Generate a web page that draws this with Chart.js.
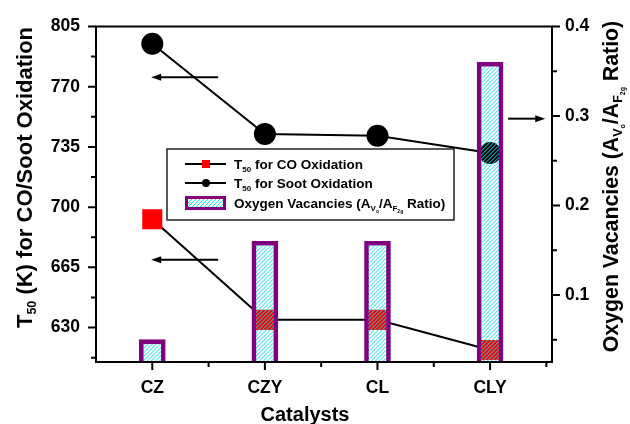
<!DOCTYPE html>
<html>
<head>
<meta charset="utf-8">
<script src="https://cdn.jsdelivr.net/npm/chart.js@4"></script>
<style>
  html, body { margin: 0; padding: 0; background: #fff; }
  #wrap { width: 630px; height: 424px; }
</style>
</head>
<body>
<div id="wrap"><canvas id="c" width="630" height="424"></canvas></div>
<script>
// Catalysts and measured values
const categories = ['CZ', 'CZY', 'CL', 'CLY'];
const t50CO = [693, 634.5, 634.5, 617];          // K, left axis
const t50Soot = [795, 742.5, 741.5, 731.5];      // K, left axis
const vacancyRatio = [0.05, 0.16, 0.16, 0.36];   // A_Vo / A_F2g, right axis

// Tick labels
const leftTickLabels = [630, 665, 700, 735, 770, 805];
const rightTickLabels = [0.1, 0.2, 0.3, 0.4];

// Arrows pointing each series to its axis (in data units)
const axisArrows = [
  { axis: 'yL', y: 775.5, from: 1.585, to: 0.99 },
  { axis: 'yL', y: 669.5, from: 1.585, to: 0.99 },
  { axis: 'yR', y: 0.297, from: 4.16, to: 4.49 }
];

const FONT = '"Liberation Sans", Arial, Helvetica, sans-serif';
const PURPLE = '#800080';
const HATCH = 'rgb(0,232,242)';
const BAR_BORDER = 4;

// "///" hatch lines clipped to a rectangle
function hatchRect(ctx, x, y, w, h, gap) {
  ctx.save();
  ctx.beginPath();
  ctx.rect(x, y, w, h);
  ctx.clip();
  ctx.strokeStyle = HATCH;
  ctx.lineWidth = 1;
  ctx.beginPath();
  const start = Math.floor((x - h) / gap) * gap;
  for (let sx = start; sx < x + w + gap; sx += gap) {
    ctx.moveTo(sx, y + h);
    ctx.lineTo(sx + h, y);
  }
  ctx.stroke();
  ctx.restore();
}

function richWidth(ctx, segs) {
  let w = 0;
  for (const s of segs) {
    ctx.font = 'bold ' + s.size + 'px ' + FONT;
    w += ctx.measureText(s.t).width;
  }
  return w;
}
function drawRich(ctx, segs, x, y) {
  let cx = x;
  for (const s of segs) {
    ctx.font = 'bold ' + s.size + 'px ' + FONT;
    ctx.fillText(s.t, cx, y + (s.dy || 0));
    cx += ctx.measureText(s.t).width;
  }
}

const canvas = document.getElementById('c');

const xy = (vals) => vals.map((v, i) => ({ x: i + 1, y: v }));
const minorBetween = (arr, step) => arr.map(v => v - step / 2);

const decorPlugin = {
  id: 'decor',
  afterDatasetsDraw(chart) {
    const { ctx, chartArea: a, scales } = chart;

    // hatch inside each vacancy bar (over the markers behind it)
    const barMeta = chart.getDatasetMeta(2);
    ctx.save();
    ctx.beginPath();
    ctx.rect(a.left, a.top, a.right - a.left, a.bottom - a.top);
    ctx.clip();
    barMeta.data.forEach(bar => {
      const p = bar.getProps(['x', 'y', 'base', 'width'], true);
      const left = p.x - p.width / 2 + BAR_BORDER;
      const top = p.y + BAR_BORDER;
      hatchRect(ctx, left, top, p.width - 2 * BAR_BORDER, p.base - top, 4);
    });
    ctx.restore();

    ctx.save();
    ctx.strokeStyle = '#000';
    ctx.fillStyle = '#000';
    ctx.lineWidth = 2;
    ctx.lineCap = 'butt';
    // frame
    ctx.strokeRect(a.left, a.top, a.right - a.left, a.bottom - a.top);
    // ticks
    ctx.beginPath();
    scales.yL.ticks.forEach(t => {
      const y = scales.yL.getPixelForValue(t.value);
      const major = leftTickLabels.some(v => Math.abs(v - t.value) < 1e-6);
      ctx.moveTo(a.left - (major ? 8 : 5), y); ctx.lineTo(a.left, y);
    });
    scales.yR.ticks.forEach(t => {
      const y = scales.yR.getPixelForValue(t.value);
      const major = rightTickLabels.some(v => Math.abs(v - t.value) < 1e-6);
      ctx.moveTo(a.right, y); ctx.lineTo(a.right + (major ? 8 : 5), y);
    });
    scales.x.ticks.forEach(t => {
      const x = scales.x.getPixelForValue(t.value);
      const major = Number.isInteger(t.value);
      ctx.moveTo(x, a.bottom); ctx.lineTo(x, a.bottom + (major ? 8 : 5));
    });
    ctx.stroke();

    // arrows
    axisArrows.forEach(ar => {
      const y = scales[ar.axis].getPixelForValue(ar.y);
      const x1 = scales.x.getPixelForValue(ar.from);
      const x2 = scales.x.getPixelForValue(ar.to);
      const dir = Math.sign(x2 - x1);
      ctx.beginPath();
      ctx.moveTo(x1, y); ctx.lineTo(x2 - dir * 6, y);
      ctx.stroke();
      ctx.beginPath();
      ctx.moveTo(x2, y);
      ctx.lineTo(x2 - dir * 10, y - 3.5);
      ctx.lineTo(x2 - dir * 10, y + 3.5);
      ctx.closePath();
      ctx.fill();
    });
    ctx.restore();
  },
  afterDraw(chart) {
    const { ctx } = chart;
    ctx.save();
    ctx.fillStyle = '#000';
    ctx.textBaseline = 'alphabetic';

    // left axis title
    const lt = [
      { t: 'T', size: 22 },
      { t: '50', size: 12.5, dy: 4 },
      { t: ' (K) for CO/Soot Oxidation', size: 22 }
    ];
    let w = richWidth(ctx, lt);
    ctx.save();
    ctx.translate(31.5, 177.5);
    ctx.rotate(-Math.PI / 2);
    drawRich(ctx, lt, -w / 2, 0);
    ctx.restore();

    // right axis title
    const rt = [
      { t: 'Oxygen Vacancies (A', size: 21.3 },
      { t: 'V', size: 12.5, dy: 4 },
      { t: 'o', size: 7, dy: 7 },
      { t: '/A', size: 21.3 },
      { t: 'F', size: 12.5, dy: 4 },
      { t: '2g', size: 7, dy: 7 },
      { t: ' Ratio)', size: 21.3 }
    ];
    w = richWidth(ctx, rt);
    ctx.save();
    ctx.translate(618, 186.5);
    ctx.rotate(-Math.PI / 2);
    drawRich(ctx, rt, -w / 2, 0);
    ctx.restore();

    // x axis title
    ctx.font = 'bold 20px ' + FONT;
    ctx.textAlign = 'center';
    ctx.fillText('Catalysts', 305, 421);
    ctx.textAlign = 'left';

    // legend
    const bx = 167, by = 149, bw = 287, bh = 71;
    ctx.fillStyle = '#fff';
    ctx.fillRect(bx, by, bw, bh);
    ctx.strokeStyle = '#222';
    ctx.lineWidth = 1.5;
    ctx.strokeRect(bx, by, bw, bh);
    ctx.strokeStyle = '#000';
    ctx.lineWidth = 2;
    const sx1 = 185, sx2 = 226, sxc = 206, tx = 234;
    const rows = [164, 183, 203];
    // CO row
    ctx.beginPath(); ctx.moveTo(sx1, rows[0]); ctx.lineTo(sx2, rows[0]); ctx.stroke();
    ctx.fillStyle = '#ff0000';
    ctx.fillRect(sxc - 4, rows[0] - 4, 8, 8);
    // soot row
    ctx.beginPath(); ctx.moveTo(sx1, rows[1]); ctx.lineTo(sx2, rows[1]); ctx.stroke();
    ctx.fillStyle = '#000';
    ctx.beginPath(); ctx.arc(sxc, rows[1], 4, 0, Math.PI * 2); ctx.fill();
    // vacancy row
    hatchRect(ctx, sx1 + 3, rows[2] - 4, sx2 - sx1 - 6, 8, 4);
    ctx.strokeStyle = PURPLE;
    ctx.lineWidth = 3;
    ctx.strokeRect(sx1 + 1.5, rows[2] - 5.5, sx2 - sx1 - 3, 11);

    ctx.fillStyle = '#000';
    drawRich(ctx, [
      { t: 'T', size: 13.5 }, { t: '50', size: 8, dy: 3 }, { t: ' for CO Oxidation', size: 13.5 }
    ], tx, rows[0] + 4.5);
    drawRich(ctx, [
      { t: 'T', size: 13.5 }, { t: '50', size: 8, dy: 3 }, { t: ' for Soot Oxidation', size: 13.5 }
    ], tx, rows[1] + 4.5);
    drawRich(ctx, [
      { t: 'Oxygen Vacancies (A', size: 13.5 },
      { t: 'V', size: 8, dy: 3 }, { t: 'o', size: 5, dy: 5 },
      { t: '/A', size: 13.5 },
      { t: 'F', size: 8, dy: 3 }, { t: '2g', size: 5, dy: 5 },
      { t: ' Ratio)', size: 13.5 }
    ], tx, rows[2] + 4.5);
    ctx.restore();
  }
};

const tickFont = { family: FONT, size: 17.5, weight: 'bold' };

new Chart(canvas, {
  type: 'bar',
  data: {
    datasets: [
      {
        type: 'line',
        label: 'T50 for CO Oxidation',
        data: xy(t50CO),
        yAxisID: 'yL',
        borderColor: '#000',
        borderWidth: 2,
        pointStyle: 'rect',
        pointRadius: 14.2,
        pointBackgroundColor: '#ff0000',
        pointBorderWidth: 0,
        tension: 0,
        order: 2
      },
      {
        type: 'line',
        label: 'T50 for Soot Oxidation',
        data: xy(t50Soot),
        yAxisID: 'yL',
        borderColor: '#000',
        borderWidth: 2,
        pointStyle: 'circle',
        pointRadius: 11,
        pointBackgroundColor: '#000',
        pointBorderWidth: 0,
        tension: 0,
        order: 1
      },
      {
        type: 'bar',
        label: 'Oxygen Vacancies',
        data: xy(vacancyRatio),
        yAxisID: 'yR',
        backgroundColor: 'rgba(0,0,0,0)',
        borderColor: PURPLE,
        borderWidth: BAR_BORDER,
        borderSkipped: 'bottom',
        barThickness: 26,
        order: 0
      }
    ]
  },
  options: {
    responsive: false,
    devicePixelRatio: 1,
    animation: false,
    layout: { padding: { top: 25, left: 0, right: 0, bottom: 0 } },
    plugins: { legend: { display: false }, tooltip: { enabled: false } },
    scales: {
      x: {
        type: 'linear',
        min: 0.5,
        max: 4.55,
        offset: false,
        afterBuildTicks(s) {
          const majors = categories.map((c, i) => i + 1);
          const vals = majors.concat(majors.map(v => v + 0.5)).sort((p, q) => p - q);
          s.ticks = vals.map(v => ({ value: v }));
        },
        afterFit(s) { s.height = 62; },
        ticks: {
          autoSkip: false,
          maxRotation: 0,
          padding: 16,
          color: '#000',
          font: tickFont,
          callback: v => Number.isInteger(v) ? categories[v - 1] : ''
        },
        grid: { display: false, drawTicks: false },
        border: { display: false }
      },
      yL: {
        type: 'linear',
        position: 'left',
        min: 610,
        max: 805,
        afterBuildTicks(s) {
          const step = leftTickLabels[1] - leftTickLabels[0];
          const vals = leftTickLabels.concat(minorBetween(leftTickLabels, step)).sort((p, q) => p - q);
          s.ticks = vals.map(v => ({ value: v }));
        },
        afterFit(s) { s.width = 96; },
        ticks: {
          autoSkip: false,
          padding: 16,
          color: '#000',
          font: tickFont,
          callback: v => leftTickLabels.some(t => Math.abs(t - v) < 1e-6) ? String(v) : ''
        },
        grid: { display: false, drawTicks: false },
        border: { display: false }
      },
      yR: {
        type: 'linear',
        position: 'right',
        min: 0.025,
        max: 0.4,
        afterBuildTicks(s) {
          const step = rightTickLabels[1] - rightTickLabels[0];
          const vals = rightTickLabels.concat(minorBetween(rightTickLabels, step)).sort((p, q) => p - q);
          s.ticks = vals.map(v => ({ value: v }));
        },
        afterFit(s) { s.width = 78; },
        ticks: {
          autoSkip: false,
          padding: 13,
          color: '#000',
          font: tickFont,
          callback: v => rightTickLabels.some(t => Math.abs(t - v) < 1e-6) ? v.toFixed(1) : ''
        },
        grid: { display: false, drawTicks: false },
        border: { display: false }
      }
    }
  },
  plugins: [decorPlugin]
});
</script>
</body>
</html>
